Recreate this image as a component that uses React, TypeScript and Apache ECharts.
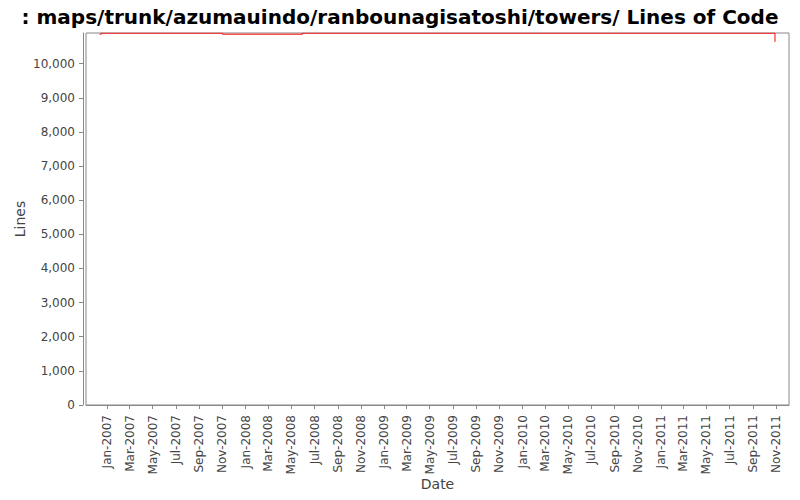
import React, { useEffect, useRef } from 'react';
import * as echarts from 'echarts';

// Lines of code over time (step changes)
const changeDates: string[] = ['2006-12-12', '2006-12-16', '2007-11-01', '2008-05-30', '2011-10-29'];
const lineCounts: number[] = [10865, 10895, 10865, 10895, 10640];

// x axis tick marks: every second month
const tickMonths: string[] = [];
for (let y = 2007; y <= 2011; y++) {
  for (let m = 0; m < 12; m += 2) {
    tickMonths.push(`${y}-${String(m + 1).padStart(2, '0')}-01`);
  }
}

const monthNames = ['Jan', 'Feb', 'Mar', 'Apr', 'May', 'Jun', 'Jul', 'Aug', 'Sep', 'Oct', 'Nov', 'Dec'];
const toUtc = (s: string) => {
  const [y, m, d] = s.split('-').map(Number);
  return Date.UTC(y, m - 1, d);
};

const App: React.FC = () => {
  const chartRef = useRef<HTMLDivElement>(null);

  useEffect(() => {
    if (!chartRef.current) return;
    const chart = echarts.init(chartRef.current, undefined, { renderer: 'svg' });
    const font = 'DejaVu Sans';
    const ticks = tickMonths.map(toUtc);

    chart.setOption({
      animation: false,
      backgroundColor: '#ffffff',
      title: {
        text: ': maps/trunk/azumauindo/ranbounagisatoshi/towers/ Lines of Code',
        left: 'center',
        top: 2,
        textStyle: { fontFamily: font, fontSize: 20, fontWeight: 'bold', color: '#000' },
      },
      grid: {
        left: 86,
        right: 11,
        top: 33,
        bottom: 95,
        show: true,
        borderColor: '#888',
        borderWidth: 1,
        backgroundColor: '#fff',
      },
      xAxis: {
        type: 'value',
        min: toUtc('2006-11-06'),
        max: toUtc('2011-12-05'),
        offset: 4,
        name: 'Date',
        nameLocation: 'middle',
        nameGap: 68,
        nameMoveOverlap: false,
        nameTextStyle: { fontFamily: font, fontSize: 14, color: '#444' },
        axisLine: { show: true, lineStyle: { color: '#888' } },
        axisTick: { show: true, length: 4, lineStyle: { color: '#888' }, customValues: ticks },
        splitLine: { show: false },
        axisLabel: {
          rotate: 90,
          fontFamily: font,
          fontSize: 12,
          color: '#444',
          margin: 6,
          customValues: ticks,
          formatter: (v: number) => {
            const d = new Date(v);
            return `${monthNames[d.getUTCMonth()]}-${d.getUTCFullYear()}`;
          },
        },
      },
      yAxis: {
        type: 'value',
        min: 0,
        max: 10900,
        interval: 1000,
        offset: 3,
        name: 'Lines',
        nameLocation: 'middle',
        nameGap: 56,
        nameMoveOverlap: false,
        nameTextStyle: { fontFamily: font, fontSize: 14, color: '#444' },
        axisLine: { show: true, lineStyle: { color: '#888' } },
        axisTick: { show: true, length: 4, lineStyle: { color: '#888' } },
        splitLine: { show: false },
        axisLabel: {
          showMaxLabel: false,
          fontFamily: font,
          fontSize: 12,
          color: '#444',
          margin: 8,
          formatter: (v: number) => (v % 1000 === 0 ? v.toLocaleString('en-US') : ''),
        },
      },
      series: [
        {
          type: 'line',
          step: 'end',
          showSymbol: false,
          lineStyle: { color: '#ff0000', width: 1 },
          data: changeDates.map((d, i) => [toUtc(d), lineCounts[i]]),
        },
      ],
    });

    return () => {
      chart.dispose();
    };
  }, []);

  return (
    <div
      ref={chartRef}
      style={{ position: 'absolute', left: 0, top: 0, width: '800px', height: '500px' }}
    ></div>
  );
};

export default App;
